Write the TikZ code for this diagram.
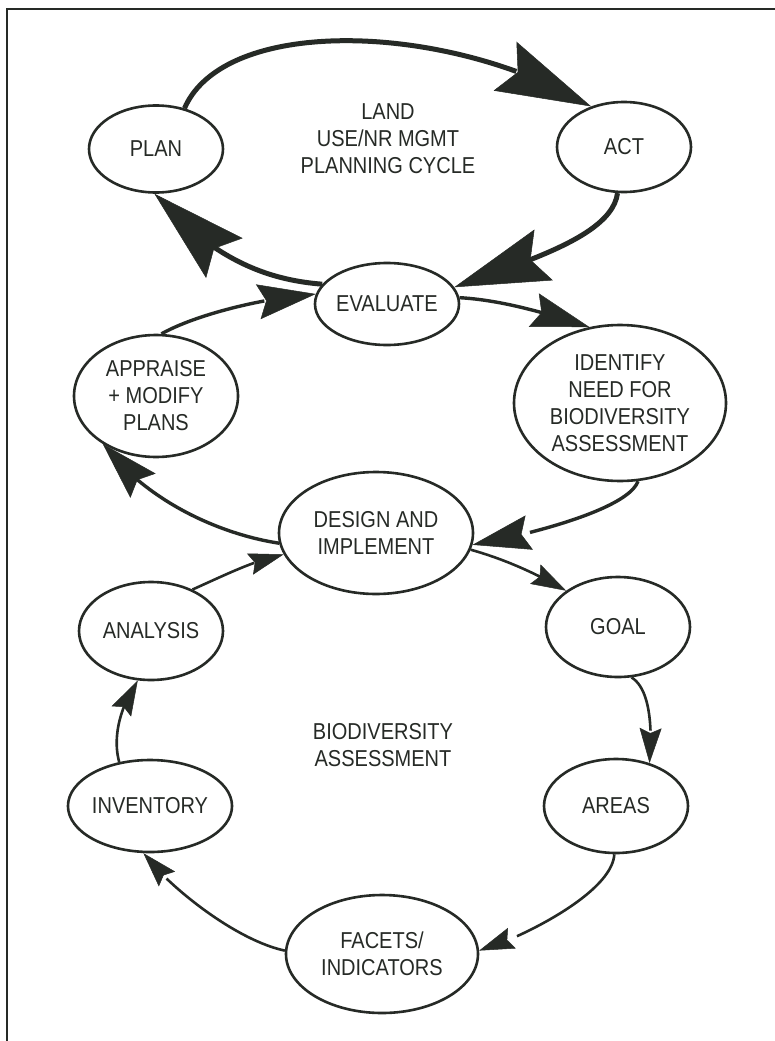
\documentclass[tikz,border=0pt]{standalone}
\usepackage{fontspec}
\newfontfamily\lblfont{Liberation Sans}[FakeStretch=0.87]
\usetikzlibrary{arrows.meta,bending,shapes.geometric}
\definecolor{ink}{RGB}{38,42,38}
\begin{document}
\begin{tikzpicture}[x=1pt,y=-1pt,
  stage/.style={ellipse,draw=ink,line width=2.6pt,inner sep=0pt,align=center,text=ink,
    font=\lblfont\fontsize{23}{27}\selectfont},
  caption/.style={align=center,text=ink,font=\lblfont\fontsize{23}{27}\selectfont},
  bigarrow/.style={draw=ink,line width=5pt,-{Stealth[length=95pt,width=54pt,inset=14pt,line width=0.5pt,flex]}},
  midarrow/.style={draw=ink,line width=3.4pt,-{Stealth[length=58pt,width=35pt,inset=8pt,line width=0.5pt,flex]}},
  smallarrow/.style={draw=ink,line width=2.6pt,-{Stealth[length=35pt,width=22pt,inset=5pt,line width=0.5pt,flex]}},
  frame/.style={draw=ink,line width=1.4pt}
]
\useasboundingbox (0,0) rectangle (775,1041);
\fill[white] (0,0) rectangle (775,1041);
\draw[frame] (7,1041) -- (7,9) -- (775,9);

% nodes
\node[stage,minimum width=134pt,minimum height=87pt] (plan) at (156,149) {PLAN};
\node[stage,minimum width=134pt,minimum height=90pt] (act) at (624,147) {ACT};
\node[caption] (landcycle) at (388,139) {LAND\\USE/NR MGMT\\PLANNING CYCLE};
\node[stage,minimum width=144pt,minimum height=82pt] (evaluate) at (387,304) {EVALUATE};
\node[stage,minimum width=164pt,minimum height=122pt] (appraise) at (156,396) {APPRAISE\\+ MODIFY\\PLANS};
\node[stage,minimum width=212pt,minimum height=156pt] (identify) at (620,403) {IDENTIFY\\NEED FOR\\BIODIVERSITY\\ASSESSMENT};
\node[stage,minimum width=194pt,minimum height=122pt] (design) at (376,533) {DESIGN AND\\IMPLEMENT};
\node[stage,minimum width=144pt,minimum height=98pt] (analysis) at (151,631) {ANALYSIS};
\node[stage,minimum width=144pt,minimum height=100pt] (goal) at (618,627) {GOAL};
\node[caption] (biocycle) at (383,745) {BIODIVERSITY\\ASSESSMENT};
\node[stage,minimum width=160pt,minimum height=92pt] (inventory) at (150,806) {INVENTORY};
\node[stage,minimum width=144pt,minimum height=94pt] (areas) at (616,806) {AREAS};
\node[stage,minimum width=192pt,minimum height=118pt] (facets) at (382,954) {FACETS/\\INDICATORS};

% upper cycle
\draw[bigarrow] (plan.55) .. controls (225,15) and (449,22) .. (act.129);
\draw[bigarrow] (act.262) .. controls (612,235) and (531,260) .. (evaluate.14);
\draw[bigarrow] (evaluate.163) .. controls (270,280) and (215,262) .. (plan.268);

% linking arrows
\draw[midarrow] (appraise.85) .. controls (195,315) and (262,298) .. (evaluate.172);
\draw[midarrow] (evaluate.5) .. controls (500,300) and (543,312) .. (identify.112);
\draw[midarrow] (design.186) .. controls (225,535) and (150,505) .. (appraise.222);
\draw[midarrow] (identify.283) .. controls (628,510) and (524,536) .. (design.353);

% lower cycle
\draw[smallarrow] (analysis.45) .. controls (225,575) and (255,560) .. (design.193);
\draw[smallarrow] (design.350) .. controls (500,558) and (530,570) .. (goal.145);
\draw[smallarrow] (goal.285) .. controls (652,690) and (652,735) .. (areas.52);
\draw[smallarrow] (areas.268) .. controls (612,895) and (512,942) .. (facets.2);
\draw[smallarrow] (facets.178) .. controls (235,940) and (168,886) .. (inventory.262);
\draw[smallarrow] (inventory.125) .. controls (113,740) and (118,710) .. (analysis.255);
\end{tikzpicture}
\end{document}
